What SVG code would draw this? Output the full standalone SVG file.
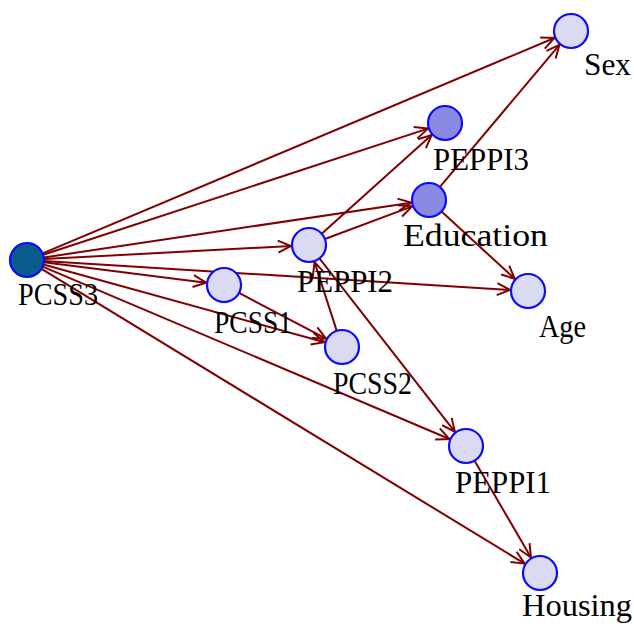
<svg xmlns="http://www.w3.org/2000/svg" width="634" height="624" viewBox="0 0 634 624">
<style>
.n{stroke:#0a0aff;stroke-width:2.2;fill:#dadaf2}
.m{fill:#8a8ae4}
.d{fill:#0b5a8c}
.e{stroke:#800000;stroke-width:2;fill:none;marker-end:url(#ah)}
text{font-family:"Liberation Serif","DejaVu Serif",serif;font-size:32px;fill:#000}
</style>
<defs>
<marker id="ah" markerUnits="userSpaceOnUse" viewBox="-15 -8 17 16" refX="0" refY="0" markerWidth="17" markerHeight="16" orient="auto">
<path d="M-13,-6 L0,0 L-13,6" fill="none" stroke="#800000" stroke-width="2"/>
</marker>
</defs>
<rect width="634" height="624" fill="#fff"/>
<g id="edges">
<line class="e" x1="42.67" y1="253.40" x2="554.41" y2="37.98"/>
<line class="e" x1="43.15" y1="254.71" x2="427.90" y2="128.61"/>
<line class="e" x1="43.81" y1="257.49" x2="411.20" y2="202.66"/>
<line class="e" x1="43.98" y1="259.10" x2="291.03" y2="245.96"/>
<line class="e" x1="43.86" y1="262.14" x2="206.14" y2="282.73"/>
<line class="e" x1="43.97" y1="261.05" x2="510.03" y2="289.89"/>
<line class="e" x1="43.39" y1="264.53" x2="324.65" y2="342.21"/>
<line class="e" x1="42.65" y1="266.63" x2="449.43" y2="438.98"/>
<line class="e" x1="41.51" y1="268.85" x2="524.63" y2="563.63"/>
<line class="e" x1="321.65" y1="233.65" x2="431.60" y2="135.02"/>
<line class="e" x1="324.92" y1="239.03" x2="412.15" y2="206.32"/>
<line class="e" x1="439.94" y1="186.98" x2="559.42" y2="44.78"/>
<line class="e" x1="441.52" y1="211.50" x2="514.75" y2="278.82"/>
<line class="e" x1="239.05" y1="292.91" x2="326.07" y2="338.63"/>
<line class="e" x1="336.77" y1="330.82" x2="314.54" y2="262.13"/>
<line class="e" x1="319.47" y1="258.40" x2="454.92" y2="431.81"/>
<line class="e" x1="474.56" y1="460.69" x2="530.94" y2="557.45"/>
</g>
<g id="PCSS3"><circle class="n d" cx="27" cy="260" r="17"/><text x="18" y="305" textLength="80" lengthAdjust="spacingAndGlyphs">PCSS3</text></g>
<g id="Sex"><circle class="n" cx="571" cy="31" r="17"/><text x="584" y="75" textLength="47" lengthAdjust="spacingAndGlyphs">Sex</text></g>
<g id="PEPPI3"><circle class="n m" cx="445" cy="123" r="17"/><text x="433" y="170" textLength="96" lengthAdjust="spacingAndGlyphs">PEPPI3</text></g>
<g id="Education"><circle class="n m" cx="429" cy="200" r="17"/><text x="403" y="246" textLength="145" lengthAdjust="spacingAndGlyphs">Education</text></g>
<g id="PEPPI2"><circle class="n" cx="309" cy="245" r="17"/><text x="297" y="292" textLength="96" lengthAdjust="spacingAndGlyphs">PEPPI2</text></g>
<g id="PCSS1"><circle class="n" cx="224" cy="285" r="17"/><text x="214" y="333" textLength="78" lengthAdjust="spacingAndGlyphs">PCSS1</text></g>
<g id="Age"><circle class="n" cx="528" cy="291" r="17"/><text x="539" y="337" textLength="47" lengthAdjust="spacingAndGlyphs">Age</text></g>
<g id="PCSS2"><circle class="n" cx="342" cy="347" r="17"/><text x="333" y="394" textLength="79" lengthAdjust="spacingAndGlyphs">PCSS2</text></g>
<g id="PEPPI1"><circle class="n" cx="466" cy="446" r="17"/><text x="455" y="493" textLength="96" lengthAdjust="spacingAndGlyphs">PEPPI1</text></g>
<g id="Housing"><circle class="n" cx="540" cy="573" r="17"/><text x="522" y="616" textLength="110" lengthAdjust="spacingAndGlyphs">Housing</text></g>
</svg>
